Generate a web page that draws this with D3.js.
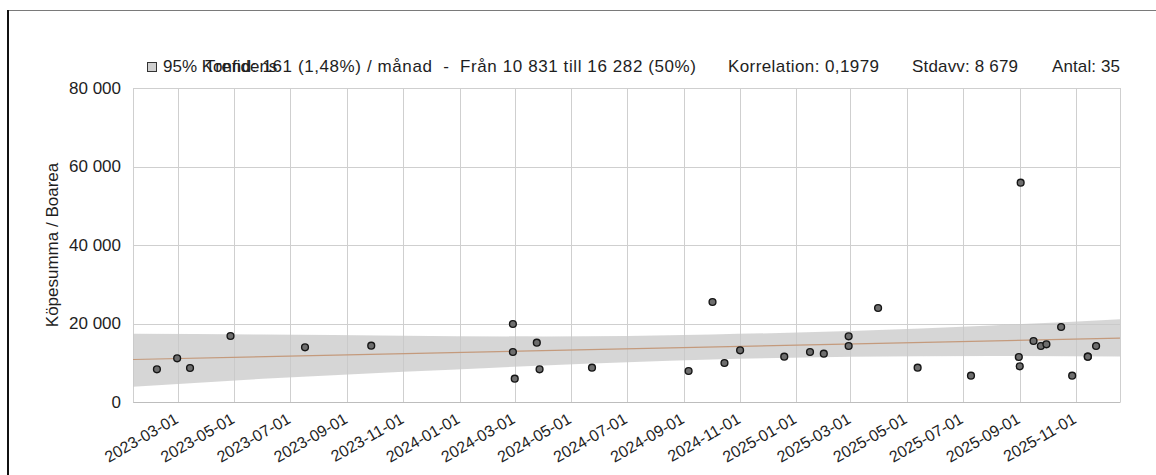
<!DOCTYPE html>
<html>
<head>
<meta charset="utf-8">
<script src="https://cdn.jsdelivr.net/npm/d3@7"></script>
<style>
  html, body { margin: 0; padding: 0; background: #fff; }
  svg { display: block; }
  text { font-family: "Liberation Sans", Arial, sans-serif; fill: #1e1e1e; }
</style>
</head>
<body>
<svg id="chart" width="1156" height="475"></svg>
<script>
// ---- data ----
const pointDates = ["2023-02-06","2023-02-28","2023-03-14","2023-04-27","2023-07-17","2023-09-27",
  "2024-02-28","2024-02-28","2024-03-01","2024-03-25","2024-03-28","2024-05-24",
  "2024-09-06","2024-10-02","2024-10-15","2024-11-01","2024-12-19","2025-01-16",
  "2025-01-31","2025-02-27","2025-02-27","2025-03-31","2025-05-13","2025-07-10",
  "2025-08-31","2025-09-01","2025-09-02","2025-09-16","2025-09-24","2025-09-30",
  "2025-10-16","2025-10-28","2025-11-14","2025-11-14","2025-11-23"];
const pointValues = [8330, 11130, 8660, 16820, 13940, 14350,
  19870, 12740, 5940, 15110, 8330, 8740,
  7900, 25480, 9940, 13170, 11540, 12740,
  12310, 16740, 14270, 23950, 8740, 6700,
  11460, 9100, 55870, 15540, 14270, 14700,
  19110, 6700, 11540, 11540, 14270];

const trendDates = ["2023-01-11", "2025-12-19"];
const trendValues = [10831, 16282];

const bandDates = ["2023-01-11","2023-06-01","2023-11-01","2024-04-01","2024-10-01","2025-03-01","2025-08-01","2025-12-19"];
const bandUpper = [17400, 17200, 16900, 16700, 17200, 18100, 19500, 21100];
const bandLower = [3900, 5900, 7700, 9300, 10800, 11500, 11700, 11600];

const xTickDates = ["2023-03-01","2023-05-01","2023-07-01","2023-09-01","2023-11-01",
  "2024-01-01","2024-03-01","2024-05-01","2024-07-01","2024-09-01","2024-11-01",
  "2025-01-01","2025-03-01","2025-05-01","2025-07-01","2025-09-01","2025-11-01"];
const yTickValues = [0, 20000, 40000, 60000, 80000];
const yTickLabels = ["0", "20 000", "40 000", "60 000", "80 000"];

const yTitle = "Köpesumma / Boarea";
const legendBand = "95% Konfidens";
const legendTrend = "Trend: 161 (1,48%) / månad  -  Från 10 831 till 16 282 (50%)";
const statCorr = "Korrelation: 0,1979";
const statStd = "Stdavv: 8 679";
const statCount = "Antal: 35";

// ---- layout ----
const W = 1156, H = 475;
const plot = { left: 133, right: 1120, top: 88, bottom: 402 };
const parse = d3.utcParse("%Y-%m-%d");
const fmt = d3.utcFormat("%Y-%m-%d");
const FONT = '"Liberation Sans", Arial, sans-serif';

const svg = d3.select("#chart");

// frame
svg.append("line").attr("x1", 7).attr("x2", W).attr("y1", 10.5).attr("y2", 10.5)
  .attr("stroke", "#7a7a7a").attr("stroke-width", 1);
svg.append("line").attr("x1", 8).attr("x2", 8).attr("y1", 10).attr("y2", H)
  .attr("stroke", "#111").attr("stroke-width", 2);

const x = d3.scaleUtc()
  .domain([parse(trendDates[0]), parse(trendDates[1])])
  .range([plot.left, plot.right]);
const y = d3.scaleLinear().domain([0, 80000]).range([plot.bottom, plot.top]);

const gridColor = "#cfcfcf";
svg.append("g").selectAll("line").data(yTickValues).join("line")
  .attr("x1", plot.left).attr("x2", plot.right)
  .attr("y1", d => Math.round(y(d)) + 0.5).attr("y2", d => Math.round(y(d)) + 0.5)
  .attr("stroke", gridColor);
svg.append("g").selectAll("line").data(xTickDates).join("line")
  .attr("x1", d => Math.round(x(parse(d))) + 0.5).attr("x2", d => Math.round(x(parse(d))) + 0.5)
  .attr("y1", plot.top).attr("y2", plot.bottom)
  .attr("stroke", gridColor);
svg.append("line").attr("x1", plot.left + 0.5).attr("x2", plot.left + 0.5)
  .attr("y1", plot.top).attr("y2", plot.bottom).attr("stroke", gridColor);
svg.append("line").attr("x1", plot.right + 0.5).attr("x2", plot.right + 0.5)
  .attr("y1", plot.top).attr("y2", plot.bottom).attr("stroke", gridColor);

// confidence band
const bandData = bandDates.map((d, i) => ({ date: parse(d), lo: bandLower[i], hi: bandUpper[i] }));
svg.append("path").datum(bandData)
  .attr("d", d3.area().x(d => x(d.date)).y0(d => y(d.lo)).y1(d => y(d.hi)).curve(d3.curveMonotoneX))
  .attr("fill", "#c8c8c8").attr("fill-opacity", 0.75);

// trend line
const trendData = trendDates.map((d, i) => ({ date: parse(d), v: trendValues[i] }));
svg.append("path").datum(trendData)
  .attr("d", d3.line().x(d => x(d.date)).y(d => y(d.v)))
  .attr("fill", "none").attr("stroke", "#c49a7c").attr("stroke-width", 1.2);

// points
const pts = pointDates.map((d, i) => ({ date: parse(d), v: pointValues[i] }));
svg.append("g").selectAll("circle").data(pts).join("circle")
  .attr("cx", d => x(d.date)).attr("cy", d => y(d.v)).attr("r", 3.4)
  .attr("fill", "#6e6e6e").attr("stroke", "#151515").attr("stroke-width", 1.4);

// y axis labels
const yAxis = d3.axisLeft(y).tickValues(yTickValues)
  .tickFormat((d, i) => yTickLabels[i]).tickSize(0).tickPadding(12);
const gy = svg.append("g").attr("transform", `translate(${plot.left},0)`).call(yAxis);
gy.select(".domain").remove();
gy.selectAll("text").style("font-size", "17px").attr("fill", "#1e1e1e")
  .style("font-family", FONT);

// x axis labels
const xAxis = d3.axisBottom(x).tickValues(xTickDates.map(parse))
  .tickFormat(fmt).tickSize(0).tickPadding(0);
const gx = svg.append("g").attr("transform", `translate(0,${plot.bottom})`).call(xAxis);
gx.select(".domain").attr("stroke", "#bdbdbd");
gx.selectAll("text")
  .style("font-size", "16px").attr("fill", "#1e1e1e")
  .style("font-family", FONT)
  .attr("text-anchor", "end")
  .attr("dy", null).attr("y", 0)
  .attr("transform", "translate(1,20) rotate(-30)");

// y title
svg.append("text").text(yTitle)
  .attr("transform", `translate(58,${(plot.top + plot.bottom) / 2}) rotate(-90)`)
  .attr("text-anchor", "middle").style("font-size", "17px");

// legend
const ly = 72;
svg.append("rect").attr("x", 147.5).attr("y", 62.5).attr("width", 9).attr("height", 9)
  .attr("fill", "#cfcfcf").attr("stroke", "#333");
svg.append("text").attr("x", 163).attr("y", ly).text(legendBand).style("font-size", "17px");
svg.append("text").attr("x", 205).attr("y", ly).text(legendTrend).style("font-size", "17px")
  .attr("xml:space", "preserve").style("white-space", "pre")
  .attr("textLength", 491).attr("lengthAdjust", "spacing");
svg.append("text").attr("x", 728).attr("y", ly).text(statCorr).style("font-size", "17px")
  .attr("textLength", 151).attr("lengthAdjust", "spacing");
svg.append("text").attr("x", 912).attr("y", ly).text(statStd).style("font-size", "17px")
  .attr("textLength", 106).attr("lengthAdjust", "spacing");
svg.append("text").attr("x", 1052).attr("y", ly).text(statCount).style("font-size", "17px")
  .attr("textLength", 68).attr("lengthAdjust", "spacing");
</script>
</body>
</html>
